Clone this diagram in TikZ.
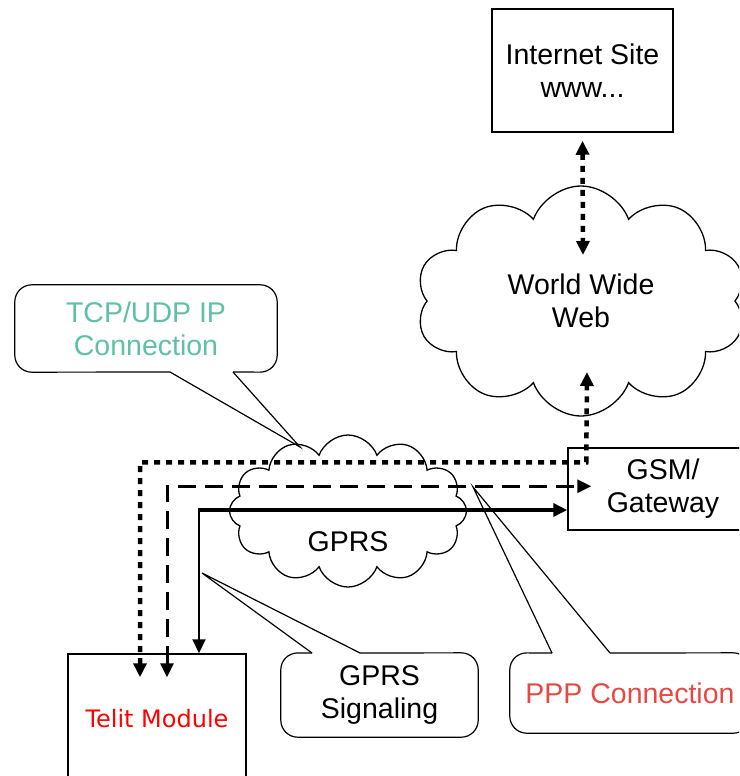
\documentclass[tikz,border=0pt]{standalone}
\usepackage{fontspec}
\setmainfont{Liberation Sans}
\newfontfamily\telitfont{DejaVu Sans}
\usetikzlibrary{shapes.symbols,arrows.meta}
\definecolor{tcpteal}{RGB}{95,192,168}
\definecolor{pppred}{RGB}{232,72,68}

\begin{document}
\begin{tikzpicture}[
    x=1pt, y=-1pt,
    every node/.style={font=\fontsize{28.5}{33}\selectfont},
    box/.style={rectangle, draw, line width=1.5pt, align=center},
    net/.style={cloud, draw, line width=1.3pt, cloud puffs=10, cloud puff arc=140, cloud ignores aspect, align=center},
    bubble/.style={draw, line width=1.2pt},
    note/.style={align=center, inner sep=0pt},
    tip/.style={-{Triangle[length=14pt,width=13pt]}},
    tips/.style={{Triangle[length=14pt,width=13pt]}-{Triangle[length=14pt,width=13pt]}},
    dotline/.style={line width=4.5pt, dash pattern=on 6pt off 6pt},
    dashline/.style={line width=3pt, dash pattern=on 18pt off 9pt}
]
\clip (0,0) rectangle (739,776);

% Boxes and clouds
\node[box, minimum width=181pt, minimum height=123pt] (inet) at (582.5,70.5) {Internet Site\\www...};
\node[net, minimum width=330pt, minimum height=230pt] (www) at (581,301) {World Wide\\Web};
\node[box, minimum width=190pt, minimum height=82pt] (gsm) at (663,489) {GSM/\\Gateway};
\node[net, cloud puffs=12, minimum width=237pt, minimum height=152pt] (gprs) at (348,511) {};
\node (gprslabel) at (348,542) {GPRS};
\node[box, minimum width=178pt, minimum height=130pt, text=red, font=\telitfont\fontsize{24}{28}\selectfont] (telit) at (157,719) {Telit Module};

% Callouts
\node[note, text=tcpteal, minimum width=262pt, minimum height=87pt] (tcp) at (146,328.5) {TCP/UDP IP\\Connection};
\coordinate (tcpa) at (170,372);
\coordinate (tcpb) at (233,372);
\coordinate (tcptip) at (300,447);
\draw[bubble, rounded corners=17pt] (tcpb) -- (tcp.south east) -- (tcp.north east) -- (tcp.north west) -- (tcp.south west) -- (tcpa);
\draw[bubble] (tcpa) -- (tcptip) -- (tcpb);

\node[note, minimum width=197pt, minimum height=84pt] (sig) at (379.5,695) {GPRS\\Signaling};
\coordinate (siga) at (312,653);
\coordinate (sigb) at (360,653);
\coordinate (sigtip) at (202,573);
\draw[bubble, rounded corners=17pt] (sigb) -- (sig.north east) -- (sig.south east) -- (sig.south west) -- (sig.north west) -- (siga);
\draw[bubble] (siga) -- (sigtip) -- (sigb);

\node[note, text=pppred, minimum width=240pt, minimum height=80pt] (ppp) at (630,693) {PPP Connection};
\coordinate (pppa) at (552,653);
\coordinate (pppb) at (610,653);
\coordinate (ppptip) at (473,487);
\draw[bubble, rounded corners=17pt] (pppb) -- (ppp.north east) -- (ppp.south east) -- (ppp.south west) -- (ppp.north west) -- (pppa);
\draw[bubble] (pppa) -- (ppptip) -- (pppb);

% Connections
\draw[dotline, tips] ([shift={(0,8)}]inet.south) -- ([shift={(2,-46)}]www.center);
\draw[dotline, tips] ([shift={(-17,24)}]telit.north) |- ([shift={(19,15)}]gsm.north west) -- ([shift={(6,71)}]www.center);
\draw[dashline, tips] ([shift={(10,24)}]telit.north) |- ([shift={(24,39)}]gsm.north west);
\coordinate (corner) at (199,510);
\draw[line width=4pt, tip] ([xshift=-1pt]corner) -- (corner -| gsm.west);
\draw[line width=2pt, tip] (corner) -- (corner |- telit.north);
\end{tikzpicture}
\end{document}
